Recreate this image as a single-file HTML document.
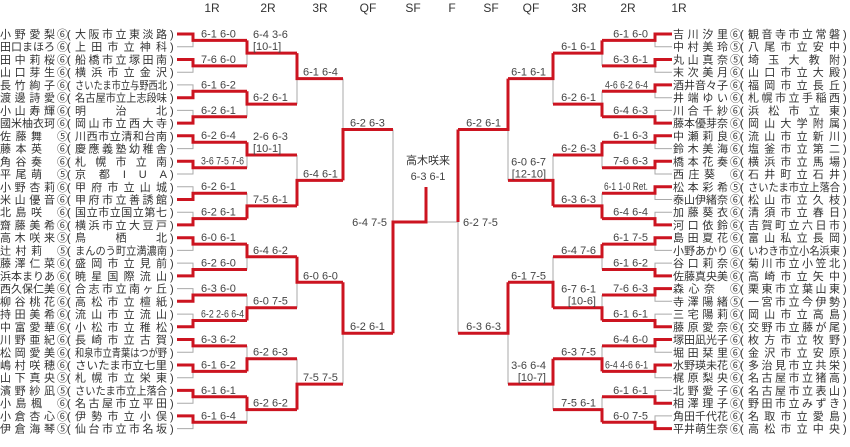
<!DOCTYPE html>
<html><head><meta charset="utf-8"><style>
html,body{margin:0;padding:0;background:#fff;width:850px;height:447px;overflow:hidden}
svg{display:block}
text{font-family:"Liberation Sans","Noto Sans CJK JP",sans-serif;fill:#333}
.n{font-size:11px}
.s{font-size:11px;fill:#444}
.h{font-size:12px;fill:#333}
</style></head><body>
<svg width="850" height="447" viewBox="0 0 850 447" xmlns="http://www.w3.org/2000/svg">
<g class="h" text-anchor="middle">
<text class="h" x="212" y="12">1R</text><text class="h" x="268" y="12">2R</text><text class="h" x="320" y="12">3R</text><text class="h" x="368" y="12">QF</text><text class="h" x="413" y="12">SF</text><text class="h" x="452" y="12">F</text><text class="h" x="491" y="12">SF</text><text class="h" x="531" y="12">QF</text><text class="h" x="579" y="12">3R</text><text class="h" x="628" y="12">2R</text><text class="h" x="679" y="12">1R</text>
</g>

<!-- gray connectors -->
<path fill="none" stroke="#aaa" stroke-width="1" d="
M177 46.7H193V40.4 M177 72.2H193V65.9 M177 84.9H193V91.3 M177 110.4H193V116.8 M177 148.6H193V142.2 M177 174H193V167.7 M177 186.8H193V193.2 M177 212.2H193V218.6 M177 250.4H193V244.1 M177 263.1H193V269.5 M177 288.6H193V295 M177 314.1H193V320.5 M177 352.3H193V345.9 M177 377.7H193V371.4 M177 403.2H193V396.8 M177 428.6H193V422.3
M247 65.9V53.1 M247 116.8V104.1 M247 167.7V155 M247 193.2V205.9 M247 269.5V256.8 M247 295V307.7 M247 345.9V358.7 M247 422.3V409.6
M297 104.1V78.6 M297 155V180.4 M297 307.7V282.3 M297 358.7V384.1
M343 78.6V129.5 M343 384.1V333.2
M393 129.5V222 M426 222H458
M672 46.7H655V40.4 M672 72.2H655V65.9 M672 97.7H655V91.3 M672 110.4H655V116.8 M672 148.6H655V142.2 M672 174H655V167.7 M672 199.5H655V193.2 M672 212.2H655V218.6 M672 250.4H655V244.1 M672 263.1H655V269.5 M672 301.3H655V295 M672 314.1H655V320.5 M672 352.3H655V345.9 M672 377.7H655V371.4 M672 390.4H655V396.8 M672 415.9H655V422.3
M602 65.9V53.1 M602 91.3V104.1 M602 167.7V155 M602 193.2V205.9 M602 269.5V256.8 M602 295V307.7 M602 345.9V358.7 M602 396.8V409.6
M553 104.1V78.6 M553 155V180.4 M553 256.8V282.3 M553 409.6V384.1
M508 180.4V129.5 M508 384.1V333.2
M458 333.2V222"/>

<!-- red connectors -->
<path fill="none" stroke="#cc1420" stroke-width="3" stroke-linejoin="miter" d="
M177 34H193V40.4H247 M177 59.5H193V65.9H247 M177 97.7H193V91.3H247 M177 123.1H193V116.8H247 M177 135.8H193V142.2H247 M177 161.3H193V167.7H247 M177 199.5H193V193.2H247 M177 224.9H193V218.6H247 M177 237.7H193V244.1H247 M177 275.9H193V269.5H247 M177 301.3H193V295H247 M177 326.8H193V320.5H247 M177 339.5H193V345.9H247 M177 365H193V371.4H247 M177 390.4H193V396.8H247 M177 415.9H193V422.3H247
M247 40.4V53.1H297 M247 91.3V104.1H297 M247 142.2V155H297 M247 218.6V205.9H297 M247 244.1V256.8H297 M247 320.5V307.7H297 M247 371.4V358.7H297 M247 396.8V409.6H297
M297 53.1V78.6H343 M297 205.9V180.4H343 M297 256.8V282.3H343 M297 409.6V384.1H343
M343 180.4V129.5H393 M343 282.3V333.2H393
M393 333.2V222H426V187
M672 34H655V40.4H602 M672 59.5H655V65.9H602 M672 84.9H655V91.3H602 M672 123.1H655V116.8H602 M672 135.8H655V142.2H602 M672 161.3H655V167.7H602 M672 186.8H655V193.2H602 M672 224.9H655V218.6H602 M672 237.7H655V244.1H602 M672 275.9H655V269.5H602 M672 288.6H655V295H602 M672 326.8H655V320.5H602 M672 339.5H655V345.9H602 M672 365H655V371.4H602 M672 403.2H655V396.8H602 M672 428.6H655V422.3H602
M602 40.4V53.1H553 M602 116.8V104.1H553 M602 142.2V155H553 M602 218.6V205.9H553 M602 244.1V256.8H553 M602 320.5V307.7H553 M602 371.4V358.7H553 M602 422.3V409.6H553
M553 53.1V78.6H508 M553 205.9V180.4H508 M553 307.7V282.3H508 M553 358.7V384.1H508
M508 78.6V129.5H458 M508 282.3V333.2H458
M458 129.5V222"/>

<!-- left scores -->
<g class="s">
<text class="s" x="201" y="37.4">6-1 6-0</text><text class="s" x="201" y="62.9">7-6 6-0</text><text class="s" x="201" y="88.3">6-1 6-2</text><text class="s" x="201" y="113.8">6-2 6-1</text><text class="s" x="201" y="139.2">6-2 6-4</text><text class="s" x="201" y="164.7" textLength="43" lengthAdjust="spacingAndGlyphs">3-6 7-5 7-6</text><text class="s" x="201" y="190.2">6-2 6-1</text><text class="s" x="201" y="215.6">6-2 6-1</text><text class="s" x="201" y="241.1">6-0 6-1</text><text class="s" x="201" y="266.5">6-2 6-0</text><text class="s" x="201" y="292">6-3 6-0</text><text class="s" x="201" y="317.5" textLength="43" lengthAdjust="spacingAndGlyphs">6-2 2-6 6-4</text><text class="s" x="201" y="342.9">6-3 6-2</text><text class="s" x="201" y="368.4">6-1 6-2</text><text class="s" x="201" y="393.8">6-1 6-1</text><text class="s" x="201" y="419.3">6-1 6-4</text>
<text class="s" x="253" y="38.1">6-4 3-6</text><text class="s" x="253" y="50.1">[10-1]</text><text class="s" x="253" y="101.1">6-2 6-1</text><text class="s" x="253" y="140">2-6 6-3</text><text class="s" x="253" y="152">[10-1]</text><text class="s" x="253" y="202.9">7-5 6-1</text><text class="s" x="253" y="253.8">6-4 6-2</text><text class="s" x="253" y="304.7">6-0 7-5</text><text class="s" x="253" y="355.7">6-2 6-3</text><text class="s" x="253" y="406.6">6-2 6-2</text>
<text class="s" x="303" y="75.6">6-1 6-4</text><text class="s" x="303" y="177.4">6-4 6-1</text><text class="s" x="303" y="279.3">6-0 6-0</text><text class="s" x="303" y="381.1">7-5 7-5</text>
<text class="s" x="350" y="126.5">6-2 6-3</text><text class="s" x="350" y="330.2">6-2 6-1</text>
<text class="s" x="387" y="226" text-anchor="end">6-4 7-5</text>
</g>
<!-- final -->
<text class="n" x="428" y="164" text-anchor="middle">高木咲来</text>
<text class="s" x="428" y="180" text-anchor="middle">6-3 6-1</text>
<!-- right scores -->
<g text-anchor="end">
<text class="s" x="648" y="37.4">6-1 6-0</text><text class="s" x="648" y="62.9">6-3 6-1</text><text class="s" x="648" y="88.3" textLength="43" lengthAdjust="spacingAndGlyphs">4-6 6-2 6-4</text><text class="s" x="648" y="113.8">6-4 6-3</text><text class="s" x="648" y="139.2">6-1 6-3</text><text class="s" x="648" y="164.7">7-6 6-3</text><text class="s" x="648" y="190.2" textLength="44" lengthAdjust="spacingAndGlyphs">6-1 1-0 Ret.</text><text class="s" x="648" y="215.6">6-4 6-4</text><text class="s" x="648" y="241.1">6-1 7-5</text><text class="s" x="648" y="266.5">6-1 6-2</text><text class="s" x="648" y="292">7-6 6-3</text><text class="s" x="648" y="317.5">6-1 6-1</text><text class="s" x="648" y="342.9">6-4 6-0</text><text class="s" x="648" y="368.4" textLength="43" lengthAdjust="spacingAndGlyphs">6-4 4-6 6-1</text><text class="s" x="648" y="393.8">6-1 6-1</text><text class="s" x="648" y="419.3">6-0 7-5</text>
<text class="s" x="596" y="50.1">6-1 6-1</text><text class="s" x="596" y="101.1">6-2 6-1</text><text class="s" x="596" y="152">6-2 6-3</text><text class="s" x="596" y="202.9">6-3 6-3</text><text class="s" x="596" y="253.8">6-4 7-6</text><text class="s" x="596" y="292.7">6-7 6-1</text><text class="s" x="596" y="304.7">[10-6]</text><text class="s" x="596" y="355.7">6-3 7-5</text><text class="s" x="596" y="406.6">7-5 6-1</text>
<text class="s" x="546" y="75.6">6-1 6-1</text><text class="s" x="546" y="165.4">6-0 6-7</text><text class="s" x="546" y="177.4">[12-10]</text><text class="s" x="546" y="279.3">6-1 7-5</text><text class="s" x="546" y="369.1">3-6 6-4</text><text class="s" x="546" y="381.1">[10-7]</text>
<text class="s" x="501" y="126.5">6-2 6-1</text><text class="s" x="501" y="330.2">6-3 6-3</text>
</g>
<text class="s" x="463" y="226">6-2 7-5</text>

<!-- left names -->
<g class="n">
<g transform="translate(0,38)"><text class="n" x="0" textLength="55" lengthAdjust="spacing">小野愛梨</text><text class="n" x="57">⑥</text><text class="n" x="67">(</text><text class="n" x="75" textLength="92" lengthAdjust="spacing">大阪市立東淡路</text><text class="n" x="170">)</text></g>
<g transform="translate(0,50.7)"><text class="n" x="0" textLength="55" lengthAdjust="spacing">田口まほろ</text><text class="n" x="57">⑥</text><text class="n" x="67">(</text><text class="n" x="75" textLength="92" lengthAdjust="spacing">上田市立神科</text><text class="n" x="170">)</text></g>
<g transform="translate(0,63.5)"><text class="n" x="0" textLength="55" lengthAdjust="spacing">田中莉桜</text><text class="n" x="57">⑥</text><text class="n" x="67">(</text><text class="n" x="75" textLength="92" lengthAdjust="spacing">船橋市立塚田南</text><text class="n" x="170">)</text></g>
<g transform="translate(0,76.2)"><text class="n" x="0" textLength="55" lengthAdjust="spacing">山口芽生</text><text class="n" x="57">⑥</text><text class="n" x="67">(</text><text class="n" x="75" textLength="92" lengthAdjust="spacing">横浜市立金沢</text><text class="n" x="170">)</text></g>
<g transform="translate(0,88.9)"><text class="n" x="0" textLength="55" lengthAdjust="spacing">長竹絢子</text><text class="n" x="57">⑥</text><text class="n" x="67">(</text><text class="n" x="75" textLength="92" lengthAdjust="spacingAndGlyphs">さいたま市立与野西北</text><text class="n" x="170">)</text></g>
<g transform="translate(0,101.7)"><text class="n" x="0" textLength="55" lengthAdjust="spacing">渡邊詩愛</text><text class="n" x="57">⑥</text><text class="n" x="67">(</text><text class="n" x="75" textLength="92" lengthAdjust="spacingAndGlyphs">名古屋市立上志段味</text><text class="n" x="170">)</text></g>
<g transform="translate(0,114.4)"><text class="n" x="0" textLength="55" lengthAdjust="spacing">小山寿輝</text><text class="n" x="57">⑥</text><text class="n" x="67">(</text><text class="n" x="75" textLength="92" lengthAdjust="spacing">明治北</text><text class="n" x="170">)</text></g>
<g transform="translate(0,127.1)"><text class="n" x="0" textLength="55" lengthAdjust="spacing">國米柚衣珂</text><text class="n" x="57">⑥</text><text class="n" x="67">(</text><text class="n" x="75" textLength="92" lengthAdjust="spacing">岡山市立西大寺</text><text class="n" x="170">)</text></g>
<g transform="translate(0,139.8)"><text class="n" x="0" textLength="42" lengthAdjust="spacing">佐藤舞</text><text class="n" x="57">⑤</text><text class="n" x="67">(</text><text class="n" x="75" textLength="92" lengthAdjust="spacing">川西市立清和台南</text><text class="n" x="170">)</text></g>
<g transform="translate(0,152.6)"><text class="n" x="0" textLength="42" lengthAdjust="spacing">藤本英</text><text class="n" x="57">⑥</text><text class="n" x="67">(</text><text class="n" x="75" textLength="92" lengthAdjust="spacing">慶應義塾幼稚舎</text><text class="n" x="170">)</text></g>
<g transform="translate(0,165.3)"><text class="n" x="0" textLength="42" lengthAdjust="spacing">角谷奏</text><text class="n" x="57">⑥</text><text class="n" x="67">(</text><text class="n" x="75" textLength="92" lengthAdjust="spacing">札幌市立南</text><text class="n" x="170">)</text></g>
<g transform="translate(0,178)"><text class="n" x="0" textLength="42" lengthAdjust="spacing">平尾萌</text><text class="n" x="57">⑤</text><text class="n" x="67">(</text><text class="n" x="75" textLength="92" lengthAdjust="spacing">京都IUA</text><text class="n" x="170">)</text></g>
<g transform="translate(0,190.8)"><text class="n" x="0" textLength="55" lengthAdjust="spacing">小野杏莉</text><text class="n" x="57">⑥</text><text class="n" x="67">(</text><text class="n" x="75" textLength="92" lengthAdjust="spacing">甲府市立山城</text><text class="n" x="170">)</text></g>
<g transform="translate(0,203.5)"><text class="n" x="0" textLength="55" lengthAdjust="spacing">米山優音</text><text class="n" x="57">⑥</text><text class="n" x="67">(</text><text class="n" x="75" textLength="92" lengthAdjust="spacing">甲府市立善誘館</text><text class="n" x="170">)</text></g>
<g transform="translate(0,216.2)"><text class="n" x="0" textLength="42" lengthAdjust="spacing">北島咲</text><text class="n" x="57">⑥</text><text class="n" x="67">(</text><text class="n" x="75" textLength="92" lengthAdjust="spacing">国立市立国立第七</text><text class="n" x="170">)</text></g>
<g transform="translate(0,228.9)"><text class="n" x="0" textLength="55" lengthAdjust="spacing">齋藤美希</text><text class="n" x="57">⑥</text><text class="n" x="67">(</text><text class="n" x="75" textLength="92" lengthAdjust="spacing">横浜市立大豆戸</text><text class="n" x="170">)</text></g>
<g transform="translate(0,241.7)"><text class="n" x="0" textLength="55" lengthAdjust="spacing">高木咲来</text><text class="n" x="57">⑤</text><text class="n" x="67">(</text><text class="n" x="75" textLength="92" lengthAdjust="spacing">鳥栖北</text><text class="n" x="170">)</text></g>
<g transform="translate(0,254.4)"><text class="n" x="0" textLength="42" lengthAdjust="spacing">辻村莉</text><text class="n" x="57">⑤</text><text class="n" x="67">(</text><text class="n" x="75" textLength="92" lengthAdjust="spacingAndGlyphs">まんのう町立満濃南</text><text class="n" x="170">)</text></g>
<g transform="translate(0,267.1)"><text class="n" x="0" textLength="55" lengthAdjust="spacing">藤澤仁菜</text><text class="n" x="57">⑥</text><text class="n" x="67">(</text><text class="n" x="75" textLength="92" lengthAdjust="spacing">盛岡市立見前</text><text class="n" x="170">)</text></g>
<g transform="translate(0,279.9)"><text class="n" x="0" textLength="55" lengthAdjust="spacing">浜本まりあ</text><text class="n" x="57">⑥</text><text class="n" x="67">(</text><text class="n" x="75" textLength="92" lengthAdjust="spacing">暁星国際流山</text><text class="n" x="170">)</text></g>
<g transform="translate(0,292.6)"><text class="n" x="0" textLength="55" lengthAdjust="spacing">西久保仁美</text><text class="n" x="57">⑥</text><text class="n" x="67">(</text><text class="n" x="75" textLength="92" lengthAdjust="spacing">合志市立南ヶ丘</text><text class="n" x="170">)</text></g>
<g transform="translate(0,305.3)"><text class="n" x="0" textLength="55" lengthAdjust="spacing">柳谷桃花</text><text class="n" x="57">⑥</text><text class="n" x="67">(</text><text class="n" x="75" textLength="92" lengthAdjust="spacing">高松市立檀紙</text><text class="n" x="170">)</text></g>
<g transform="translate(0,318.1)"><text class="n" x="0" textLength="55" lengthAdjust="spacing">持田美希</text><text class="n" x="57">⑥</text><text class="n" x="67">(</text><text class="n" x="75" textLength="92" lengthAdjust="spacing">流山市立流山</text><text class="n" x="170">)</text></g>
<g transform="translate(0,330.8)"><text class="n" x="0" textLength="55" lengthAdjust="spacing">中富愛華</text><text class="n" x="57">⑥</text><text class="n" x="67">(</text><text class="n" x="75" textLength="92" lengthAdjust="spacing">小松市立稚松</text><text class="n" x="170">)</text></g>
<g transform="translate(0,343.5)"><text class="n" x="0" textLength="55" lengthAdjust="spacing">川野亜紀</text><text class="n" x="57">⑥</text><text class="n" x="67">(</text><text class="n" x="75" textLength="92" lengthAdjust="spacing">長崎市立古賀</text><text class="n" x="170">)</text></g>
<g transform="translate(0,356.3)"><text class="n" x="0" textLength="55" lengthAdjust="spacing">松岡愛美</text><text class="n" x="57">⑥</text><text class="n" x="67">(</text><text class="n" x="75" textLength="92" lengthAdjust="spacingAndGlyphs">和泉市立青葉はつが野</text><text class="n" x="170">)</text></g>
<g transform="translate(0,369)"><text class="n" x="0" textLength="55" lengthAdjust="spacing">嶋村咲穂</text><text class="n" x="57">⑥</text><text class="n" x="67">(</text><text class="n" x="75" textLength="92" lengthAdjust="spacingAndGlyphs">さいたま市立七里</text><text class="n" x="170">)</text></g>
<g transform="translate(0,381.7)"><text class="n" x="0" textLength="55" lengthAdjust="spacing">山下真央</text><text class="n" x="57">⑤</text><text class="n" x="67">(</text><text class="n" x="75" textLength="92" lengthAdjust="spacing">札幌市立栄東</text><text class="n" x="170">)</text></g>
<g transform="translate(0,394.4)"><text class="n" x="0" textLength="55" lengthAdjust="spacing">濱野紗凪</text><text class="n" x="57">⑤</text><text class="n" x="67">(</text><text class="n" x="75" textLength="92" lengthAdjust="spacingAndGlyphs">さいたま市立上落合</text><text class="n" x="170">)</text></g>
<g transform="translate(0,407.2)"><text class="n" x="0" textLength="42" lengthAdjust="spacing">小島楓</text><text class="n" x="57">⑥</text><text class="n" x="67">(</text><text class="n" x="75" textLength="92" lengthAdjust="spacing">名古屋市立平田</text><text class="n" x="170">)</text></g>
<g transform="translate(0,419.9)"><text class="n" x="0" textLength="55" lengthAdjust="spacing">小倉杏心</text><text class="n" x="57">⑥</text><text class="n" x="67">(</text><text class="n" x="75" textLength="92" lengthAdjust="spacing">伊勢市立小俣</text><text class="n" x="170">)</text></g>
<g transform="translate(0,432.6)"><text class="n" x="0" textLength="55" lengthAdjust="spacing">伊倉海琴</text><text class="n" x="57">⑤</text><text class="n" x="67">(</text><text class="n" x="75" textLength="92" lengthAdjust="spacing">仙台市立市名坂</text><text class="n" x="170">)</text></g>
</g>

<!-- right names -->
<g transform="translate(673,0)">
<g transform="translate(0,38)"><text class="n" x="0" textLength="55" lengthAdjust="spacing">吉川汐里</text><text class="n" x="57">⑥</text><text class="n" x="67">(</text><text class="n" x="75" textLength="92" lengthAdjust="spacing">観音寺市立常磐</text><text class="n" x="170">)</text></g>
<g transform="translate(0,50.7)"><text class="n" x="0" textLength="55" lengthAdjust="spacing">中村美玲</text><text class="n" x="57">⑤</text><text class="n" x="67">(</text><text class="n" x="75" textLength="92" lengthAdjust="spacing">八尾市立安中</text><text class="n" x="170">)</text></g>
<g transform="translate(0,63.5)"><text class="n" x="0" textLength="55" lengthAdjust="spacing">丸山真奈</text><text class="n" x="57">⑤</text><text class="n" x="67">(</text><text class="n" x="75" textLength="92" lengthAdjust="spacing">埼玉大教附</text><text class="n" x="170">)</text></g>
<g transform="translate(0,76.2)"><text class="n" x="0" textLength="55" lengthAdjust="spacing">末次美月</text><text class="n" x="57">⑥</text><text class="n" x="67">(</text><text class="n" x="75" textLength="92" lengthAdjust="spacing">山口市立大殿</text><text class="n" x="170">)</text></g>
<g transform="translate(0,88.9)"><text class="n" x="0" textLength="55" lengthAdjust="spacing">酒井音々子</text><text class="n" x="57">⑥</text><text class="n" x="67">(</text><text class="n" x="75" textLength="92" lengthAdjust="spacing">福岡市立長丘</text><text class="n" x="170">)</text></g>
<g transform="translate(0,101.7)"><text class="n" x="0" textLength="55" lengthAdjust="spacing">井端ゆい</text><text class="n" x="57">⑥</text><text class="n" x="67">(</text><text class="n" x="75" textLength="92" lengthAdjust="spacing">札幌市立手稲西</text><text class="n" x="170">)</text></g>
<g transform="translate(0,114.4)"><text class="n" x="0" textLength="55" lengthAdjust="spacing">川合千紗</text><text class="n" x="57">⑥</text><text class="n" x="67">(</text><text class="n" x="75" textLength="92" lengthAdjust="spacing">浜松市立東</text><text class="n" x="170">)</text></g>
<g transform="translate(0,127.1)"><text class="n" x="0" textLength="55" lengthAdjust="spacing">藤本優芽奈</text><text class="n" x="57">⑥</text><text class="n" x="67">(</text><text class="n" x="75" textLength="92" lengthAdjust="spacing">岡山大学附属</text><text class="n" x="170">)</text></g>
<g transform="translate(0,139.8)"><text class="n" x="0" textLength="55" lengthAdjust="spacing">中瀬莉良</text><text class="n" x="57">⑥</text><text class="n" x="67">(</text><text class="n" x="75" textLength="92" lengthAdjust="spacing">流山市立新川</text><text class="n" x="170">)</text></g>
<g transform="translate(0,152.6)"><text class="n" x="0" textLength="55" lengthAdjust="spacing">鈴木美海</text><text class="n" x="57">⑥</text><text class="n" x="67">(</text><text class="n" x="75" textLength="92" lengthAdjust="spacing">塩釜市立第二</text><text class="n" x="170">)</text></g>
<g transform="translate(0,165.3)"><text class="n" x="0" textLength="55" lengthAdjust="spacing">橋本花奏</text><text class="n" x="57">⑥</text><text class="n" x="67">(</text><text class="n" x="75" textLength="92" lengthAdjust="spacing">横浜市立馬場</text><text class="n" x="170">)</text></g>
<g transform="translate(0,178)"><text class="n" x="0" textLength="42" lengthAdjust="spacing">西庄葵</text><text class="n" x="57">⑥</text><text class="n" x="67">(</text><text class="n" x="75" textLength="92" lengthAdjust="spacing">石井町立石井</text><text class="n" x="170">)</text></g>
<g transform="translate(0,190.8)"><text class="n" x="0" textLength="55" lengthAdjust="spacing">松本彩希</text><text class="n" x="57">⑤</text><text class="n" x="67">(</text><text class="n" x="75" textLength="92" lengthAdjust="spacingAndGlyphs">さいたま市立上落合</text><text class="n" x="170">)</text></g>
<g transform="translate(0,203.5)"><text class="n" x="0" textLength="55" lengthAdjust="spacing">泰山伊緒奈</text><text class="n" x="57">⑥</text><text class="n" x="67">(</text><text class="n" x="75" textLength="92" lengthAdjust="spacing">松山市立久枝</text><text class="n" x="170">)</text></g>
<g transform="translate(0,216.2)"><text class="n" x="0" textLength="55" lengthAdjust="spacing">加藤葵衣</text><text class="n" x="57">⑥</text><text class="n" x="67">(</text><text class="n" x="75" textLength="92" lengthAdjust="spacing">清須市立春日</text><text class="n" x="170">)</text></g>
<g transform="translate(0,228.9)"><text class="n" x="0" textLength="55" lengthAdjust="spacing">河口依鈴</text><text class="n" x="57">⑥</text><text class="n" x="67">(</text><text class="n" x="75" textLength="92" lengthAdjust="spacing">吉賀町立六日市</text><text class="n" x="170">)</text></g>
<g transform="translate(0,241.7)"><text class="n" x="0" textLength="55" lengthAdjust="spacing">島田夏花</text><text class="n" x="57">⑥</text><text class="n" x="67">(</text><text class="n" x="75" textLength="92" lengthAdjust="spacing">富山私立長岡</text><text class="n" x="170">)</text></g>
<g transform="translate(0,254.4)"><text class="n" x="0" textLength="55" lengthAdjust="spacing">小野あかり</text><text class="n" x="57">⑥</text><text class="n" x="67">(</text><text class="n" x="75" textLength="92" lengthAdjust="spacingAndGlyphs">いわき市立小名浜東</text><text class="n" x="170">)</text></g>
<g transform="translate(0,267.1)"><text class="n" x="0" textLength="55" lengthAdjust="spacing">谷口莉奈</text><text class="n" x="57">⑥</text><text class="n" x="67">(</text><text class="n" x="75" textLength="92" lengthAdjust="spacing">菊川市立小笠北</text><text class="n" x="170">)</text></g>
<g transform="translate(0,279.9)"><text class="n" x="0" textLength="55" lengthAdjust="spacing">佐藤真央美</text><text class="n" x="57">⑥</text><text class="n" x="67">(</text><text class="n" x="75" textLength="92" lengthAdjust="spacing">高崎市立矢中</text><text class="n" x="170">)</text></g>
<g transform="translate(0,292.6)"><text class="n" x="0" textLength="42" lengthAdjust="spacing">森心奈</text><text class="n" x="57">⑥</text><text class="n" x="67">(</text><text class="n" x="75" textLength="92" lengthAdjust="spacing">栗東市立葉山東</text><text class="n" x="170">)</text></g>
<g transform="translate(0,305.3)"><text class="n" x="0" textLength="55" lengthAdjust="spacing">寺澤陽緒</text><text class="n" x="57">⑤</text><text class="n" x="67">(</text><text class="n" x="75" textLength="92" lengthAdjust="spacing">一宮市立今伊勢</text><text class="n" x="170">)</text></g>
<g transform="translate(0,318.1)"><text class="n" x="0" textLength="55" lengthAdjust="spacing">三宅陽莉</text><text class="n" x="57">⑥</text><text class="n" x="67">(</text><text class="n" x="75" textLength="92" lengthAdjust="spacing">岡山市立高島</text><text class="n" x="170">)</text></g>
<g transform="translate(0,330.8)"><text class="n" x="0" textLength="55" lengthAdjust="spacing">藤原愛奈</text><text class="n" x="57">⑥</text><text class="n" x="67">(</text><text class="n" x="75" textLength="92" lengthAdjust="spacing">交野市立藤が尾</text><text class="n" x="170">)</text></g>
<g transform="translate(0,343.5)"><text class="n" x="0" textLength="55" lengthAdjust="spacing">塚田凪光子</text><text class="n" x="57">⑥</text><text class="n" x="67">(</text><text class="n" x="75" textLength="92" lengthAdjust="spacing">枚方市立牧野</text><text class="n" x="170">)</text></g>
<g transform="translate(0,356.3)"><text class="n" x="0" textLength="55" lengthAdjust="spacing">堀田栞里</text><text class="n" x="57">⑥</text><text class="n" x="67">(</text><text class="n" x="75" textLength="92" lengthAdjust="spacing">金沢市立安原</text><text class="n" x="170">)</text></g>
<g transform="translate(0,369)"><text class="n" x="0" textLength="55" lengthAdjust="spacing">水野瑛未花</text><text class="n" x="57">⑥</text><text class="n" x="67">(</text><text class="n" x="75" textLength="92" lengthAdjust="spacing">多治見市立共栄</text><text class="n" x="170">)</text></g>
<g transform="translate(0,381.7)"><text class="n" x="0" textLength="55" lengthAdjust="spacing">梶原梨央</text><text class="n" x="57">⑥</text><text class="n" x="67">(</text><text class="n" x="75" textLength="92" lengthAdjust="spacing">名古屋市立猪高</text><text class="n" x="170">)</text></g>
<g transform="translate(0,394.4)"><text class="n" x="0" textLength="55" lengthAdjust="spacing">北野愛子</text><text class="n" x="57">⑥</text><text class="n" x="67">(</text><text class="n" x="75" textLength="92" lengthAdjust="spacing">名古屋市立表山</text><text class="n" x="170">)</text></g>
<g transform="translate(0,407.2)"><text class="n" x="0" textLength="55" lengthAdjust="spacing">相澤理子</text><text class="n" x="57">⑥</text><text class="n" x="67">(</text><text class="n" x="75" textLength="92" lengthAdjust="spacing">野田市立みずき</text><text class="n" x="170">)</text></g>
<g transform="translate(0,419.9)"><text class="n" x="0" textLength="55" lengthAdjust="spacing">角田千代花</text><text class="n" x="57">⑥</text><text class="n" x="67">(</text><text class="n" x="75" textLength="92" lengthAdjust="spacing">名取市立愛島</text><text class="n" x="170">)</text></g>
<g transform="translate(0,432.6)"><text class="n" x="0" textLength="55" lengthAdjust="spacing">平井萌生奈</text><text class="n" x="57">⑥</text><text class="n" x="67">(</text><text class="n" x="75" textLength="92" lengthAdjust="spacing">高松市立中央</text><text class="n" x="170">)</text></g>
</g>
</svg>
</body></html>
